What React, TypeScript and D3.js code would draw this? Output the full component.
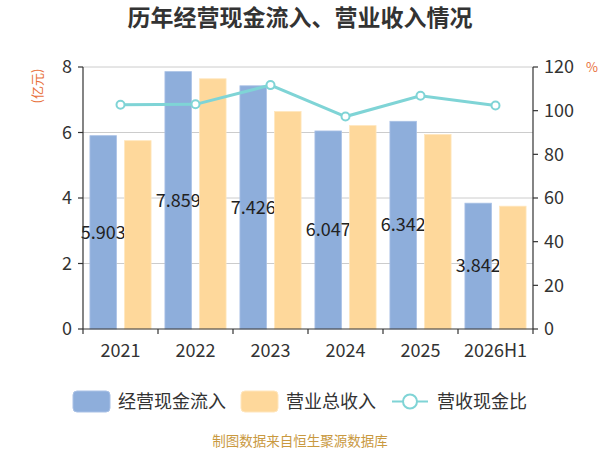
import * as d3 from "d3";

// chart data
const years = ["2021", "2022", "2023", "2024", "2025", "2026H1"];
const cashInflow = [5.903, 7.859, 7.426, 6.047, 6.342, 3.842];
const revenue = [5.75, 7.64, 6.64, 6.21, 5.94, 3.75];
const ratio = [102.7, 102.9, 111.7, 97.3, 106.8, 102.4];
const leftTicks = [0, 2, 4, 6, 8];
const rightTicks = [0, 20, 40, 60, 80, 100, 120];

const width = 600;
const height = 450;
const margin = { top: 67, right: 67, bottom: 121, left: 83 };
const font = "'Noto Sans CJK SC', 'Noto Sans', sans-serif";

const BLUE = "#8eaedb";
const ORANGE = "#fed89b";
const LINE = "#7fd4d6";
const TEXT = "#333";

export default function App() {
  const x = d3
    .scaleBand()
    .domain(years)
    .range([margin.left, width - margin.right]);
  const x1 = d3
    .scaleBand()
    .domain(["cash", "rev"])
    .range([0, x.bandwidth()])
    .paddingInner(0.235)
    .paddingOuter(0.2);
  const y = d3
    .scaleLinear()
    .domain([0, 8])
    .range([height - margin.bottom, margin.top]);
  const y2 = d3
    .scaleLinear()
    .domain([0, 120])
    .range([height - margin.bottom, margin.top]);

  const line = d3
    .line<number>()
    .x((_, i) => (x(years[i]) as number) + x.bandwidth() / 2)
    .y((d) => y2(d));

  const x0 = margin.left;
  const xR = width - margin.right;
  const yB = height - margin.bottom;

  return (
    <svg
      width={width}
      height={height}
      style={{ position: "absolute", left: 0, top: 0, fontFamily: font }}
    >
      <rect width={width} height={height} fill="#fff" />
      <text
        x={width / 2}
        y={26}
        textAnchor="middle"
        fontSize={23}
        fontWeight="bold"
        fill={TEXT}
      >
        历年经营现金流入、营业收入情况
      </text>

      {/* grid */}
      {leftTicks.slice(1).map((t) => (
        <line key={t} x1={x0} x2={xR} y1={y(t)} y2={y(t)} stroke="#ccc" />
      ))}

      {/* cash inflow bars */}
      {years.map((yr, i) => (
        <rect
          key={yr}
          x={(x(yr) as number) + (x1("cash") as number)}
          y={y(cashInflow[i])}
          width={x1.bandwidth()}
          height={yB - y(cashInflow[i])}
          fill={BLUE}
          stroke="#a9c1e6"
          strokeWidth={0.8}
        />
      ))}

      {/* value labels */}
      {years.map((yr, i) => (
        <text
          key={yr}
          x={(x(yr) as number) + (x1("cash") as number) + x1.bandwidth() / 2}
          y={(y(cashInflow[i]) + yB) / 2}
          dy="0.35em"
          textAnchor="middle"
          fontSize={18}
          fill="#222"
        >
          {cashInflow[i].toFixed(3)}
        </text>
      ))}

      {/* revenue bars */}
      {years.map((yr, i) => (
        <rect
          key={yr}
          x={(x(yr) as number) + (x1("rev") as number)}
          y={y(revenue[i])}
          width={x1.bandwidth()}
          height={yB - y(revenue[i])}
          fill={ORANGE}
          stroke="#ffe6bd"
          strokeWidth={0.8}
        />
      ))}

      {/* ratio line */}
      <path d={line(ratio) as string} fill="none" stroke={LINE} strokeWidth={3} />
      {ratio.map((r, i) => (
        <circle
          key={i}
          cx={(x(years[i]) as number) + x.bandwidth() / 2}
          cy={y2(r)}
          r={4}
          fill="#fff"
          stroke={LINE}
          strokeWidth={2}
        />
      ))}

      {/* left axis */}
      <line x1={x0} x2={x0} y1={margin.top} y2={yB} stroke={TEXT} strokeWidth={1.2} />
      {leftTicks.map((t) => (
        <g key={t} transform={`translate(${x0},${y(t)})`}>
          <line x1={-5} x2={0} stroke={TEXT} strokeWidth={1.2} />
          <text x={-11} dy="0.35em" textAnchor="end" fontSize={18} fill={TEXT}>
            {t}
          </text>
        </g>
      ))}
      <text
        transform={`translate(42,86) rotate(-90)`}
        textAnchor="middle"
        fontSize={13}
        fill="#e8703a"
      >
        (亿元)
      </text>

      {/* right axis */}
      <line x1={xR} x2={xR} y1={margin.top} y2={yB} stroke={TEXT} strokeWidth={1.2} />
      {rightTicks.map((t) => (
        <g key={t} transform={`translate(${xR},${y2(t)})`}>
          <line x1={0} x2={5} stroke={TEXT} strokeWidth={1.2} />
          <text x={11} dy="0.35em" textAnchor="start" fontSize={18} fill={TEXT}>
            {t}
          </text>
        </g>
      ))}
      <text x={586} y={72} fontSize={13} fill="#e8703a">
        %
      </text>

      {/* x axis */}
      <line x1={x0} x2={xR} y1={yB} y2={yB} stroke={TEXT} strokeWidth={1.2} />
      {years.map((yr) => (
        <line
          key={yr}
          x1={x(yr) as number}
          x2={x(yr) as number}
          y1={yB}
          y2={yB + 5}
          stroke={TEXT}
          strokeWidth={1.2}
        />
      ))}
      <line x1={xR} x2={xR} y1={yB} y2={yB + 5} stroke={TEXT} strokeWidth={1.2} />
      {years.map((yr) => (
        <text
          key={yr}
          x={(x(yr) as number) + x.bandwidth() / 2}
          y={357}
          textAnchor="middle"
          fontSize={18}
          fill={TEXT}
        >
          {yr}
        </text>
      ))}

      {/* legend */}
      <rect x={73} y={391} width={37} height={21} rx={4} fill={BLUE} stroke="#a9c1e6" />
      <text x={118} y={408} fontSize={18} fill={TEXT}>
        经营现金流入
      </text>
      <rect x={241} y={391} width={37} height={21} rx={4} fill={ORANGE} stroke="#ffe6bd" />
      <text x={286} y={408} fontSize={18} fill={TEXT}>
        营业总收入
      </text>
      <line x1={392} x2={428} y1={401.5} y2={401.5} stroke={LINE} strokeWidth={2} />
      <circle cx={410} cy={401.5} r={7} fill="#fff" stroke={LINE} strokeWidth={2} />
      <text x={437} y={408} fontSize={18} fill={TEXT}>
        营收现金比
      </text>

      <text x={width / 2} y={446} textAnchor="middle" fontSize={13.5} fill="#c9993f">
        制图数据来自恒生聚源数据库
      </text>
    </svg>
  );
}
